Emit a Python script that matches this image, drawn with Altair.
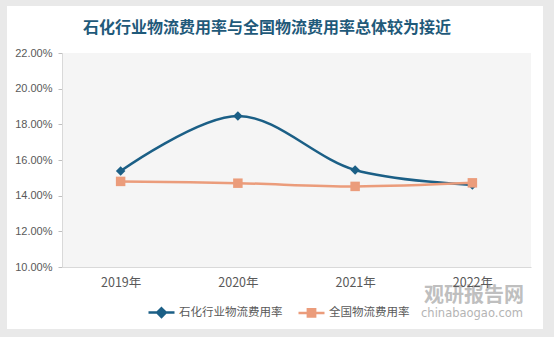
import altair as alt
import pandas as pd

years = ["2019年", "2020年", "2021年", "2022年"]
series_names = ["石化行业物流费用率", "全国物流费用率"]
petro = [0.1538, 0.1847, 0.1544, 0.1460]
national = [0.1480, 0.1470, 0.1452, 0.1472]
y_ticks = [0.10, 0.12, 0.14, 0.16, 0.18, 0.20, 0.22]
colors = ["#1b5f86", "#eb9c7b"]
title_text = "石化行业物流费用率与全国物流费用率总体较为接近"

rows = []
for y, v in zip(years, petro):
    rows.append({"year": y, "series": series_names[0], "value": v})
for y, v in zip(years, national):
    rows.append({"year": y, "series": series_names[1], "value": v})
df = pd.DataFrame(rows)

FONT = "Noto Sans CJK SC"

x_enc = alt.X("year:N", sort=years, scale=alt.Scale(type="point", padding=0.5),
              axis=alt.Axis(title=None, labelAngle=0, ticks=False, labelPadding=9,
                            labelFontSize=12.5, labelColor="#595959", labelFont=FONT,
                            domainColor="#d9d9d9", zindex=1))
y_enc = alt.Y("value:Q", scale=alt.Scale(domain=[0.10, 0.22], nice=False, zero=False),
              axis=alt.Axis(title=None, format=".2%", values=y_ticks,
                            grid=False, tickSize=4, tickColor="#bfbfbf", domainColor="#d9d9d9",
                            labelPadding=6, labelFontSize=11, labelColor="#595959",
                            labelOverlap=False, labelFont="Liberation Sans", zindex=1))
color_scale = alt.Scale(domain=series_names, range=colors)

leg = dict(title=None, orient="none", legendX=85, legendY=245, direction="horizontal",
           symbolSize=676, symbolStrokeWidth=2.5, labelFontSize=11.5, labelColor="#595959",
           labelFont=FONT, labelOffset=3, columnPadding=10, zindex=2)

one = alt.Data(values=[{"a": 1}])

card = alt.Chart(one).mark_rect(fill="white").encode(
    x=alt.value(-55), x2=alt.value(481), y=alt.value(-47), y2=alt.value(276))
plotbg = alt.Chart(one).mark_rect(fill="#f5f5f5").encode(
    x=alt.value(0), x2=alt.value(469), y=alt.value(0), y2=alt.value(214))

title = alt.Chart(one).mark_text(text=title_text, font=FONT, fontSize=16, fontWeight="bold",
                                 color="#1f5a7a").encode(x=alt.value(205), y=alt.value(-25))

line = alt.Chart(df).mark_line(strokeWidth=2.5, interpolate="catmull-rom").encode(
    x=x_enc, y=y_enc,
    stroke=alt.Stroke("series:N", scale=color_scale, legend=alt.Legend(**leg)),
    detail="series:N")

pts_a = alt.Chart(df).transform_filter(
    alt.datum.series == series_names[0]).mark_point(
    filled=True, opacity=1, size=90, shape="diamond", color=colors[0]).encode(
    x=x_enc, y=y_enc)
pts_b = alt.Chart(df).transform_filter(
    alt.datum.series == series_names[1]).mark_point(
    filled=True, opacity=1, size=90, shape="square", color=colors[1]).encode(
    x=x_enc, y=y_enc)

legend_layer = alt.Chart(df).transform_filter(alt.datum.value < 0).mark_point(
    opacity=1, strokeWidth=2.5).encode(
    x=x_enc, y=y_enc,
    fill=alt.Fill("series:N", scale=color_scale, legend=alt.Legend(**leg)),
    stroke=alt.Stroke("series:N", scale=color_scale, legend=alt.Legend(**leg)),
    shape=alt.Shape("series:N", scale=alt.Scale(
        domain=series_names,
        range=["M-1,0H1M0,-0.33L0.33,0L0,0.33L-0.33,0Z",
               "M-1,0H1M-0.28,-0.28H0.28V0.28H-0.28Z"]),
        legend=alt.Legend(**leg)))

wm1 = alt.Chart(one).mark_text(text="观研报告网", font=FONT, fontSize=20, fontWeight="bold",
                               color="#b4b4b4", opacity=0.85).encode(x=alt.value(412), y=alt.value(243))
wm2 = alt.Chart(one).mark_text(text="chinabaogao.com", font="DejaVu Sans", fontSize=11.5,
                               color="#a8a8a8", opacity=0.85).encode(x=alt.value(410), y=alt.value(261))

chart = alt.layer(card, plotbg, title, line, pts_a, pts_b, legend_layer, wm1, wm2).properties(
    width=469, height=214,
    padding={"left": 62, "top": 53, "right": 23, "bottom": 70},
    autosize=alt.AutoSizeParams(type="none"),
    background="#e9e9e9",
).configure_view(stroke=None, fill=None)

chart.save("out.html", embed_options={"renderer": "svg", "actions": False})
